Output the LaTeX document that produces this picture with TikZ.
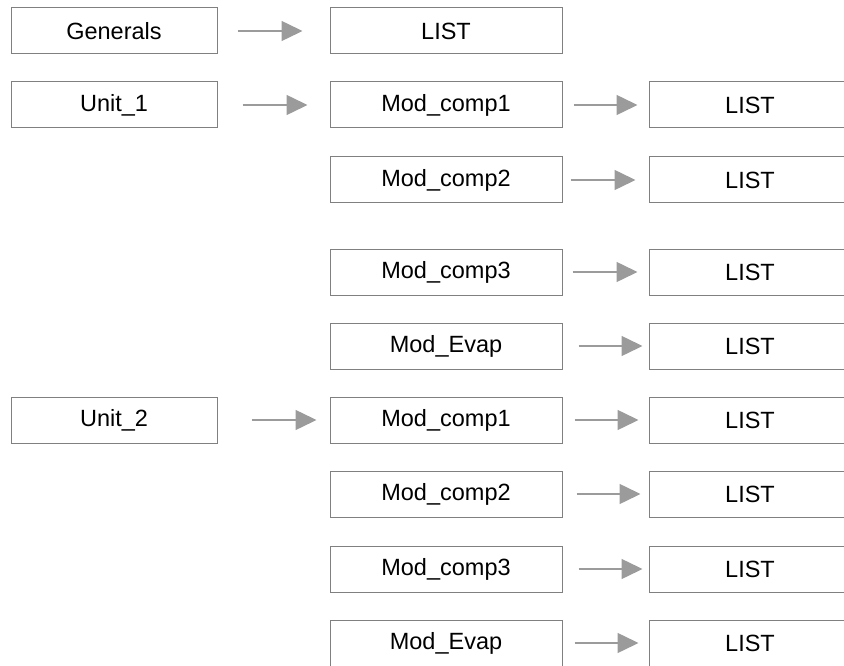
\documentclass[tikz,border=0pt]{standalone}
\usepackage{fontspec}
\setmainfont{Liberation Sans}
\usetikzlibrary{arrows.meta}
\definecolor{boxgray}{RGB}{128,128,128}
\definecolor{arrgray}{RGB}{155,155,155}
\tikzset{
  box/.style={draw=boxgray, line width=1pt, fill=white, inner sep=0pt,
    minimum height=46pt, font=\fontsize{23.5}{28}\selectfont},
  boxA/.style={box, minimum width=206pt},
  boxB/.style={box, minimum width=232pt},
  arr/.style={draw=arrgray, line width=1.5pt,
    -{Triangle[length=21pt, width=20pt, fill=arrgray]}},
}
\begin{document}
\begin{tikzpicture}[x=1pt,y=-1pt]
\path[use as bounding box] (0,0) rectangle (844,666);
\clip (0,0) rectangle (844,666);
% column 1
\node[boxA] (gen) at (114,31) {Generals};
\node[boxA] (u1) at (114,105) {Unit\_1};
\node[boxA] (u2) at (114,420) {Unit\_2};
% column 2
\node[boxB] (l0) at (446,31) {LIST};
\node[boxB] (m1) at (446,105) {Mod\_comp1};
\node[boxB] (m2) at (446,180) {Mod\_comp2};
\node[boxB] (m3) at (446,272) {Mod\_comp3};
\node[boxB] (m4) at (446,346) {Mod\_Evap};
\node[boxB] (n1) at (446,420) {Mod\_comp1};
\node[boxB] (n2) at (446,494) {Mod\_comp2};
\node[boxB] (n3) at (446,569) {Mod\_comp3};
\node[boxB] (n4) at (446,643) {Mod\_Evap};
% column 3
\node[boxB] (lm1) at (765,105) {\hspace*{-30pt}LIST};
\node[boxB] (lm2) at (765,180) {\hspace*{-30pt}LIST};
\node[boxB] (lm3) at (765,272) {\hspace*{-30pt}LIST};
\node[boxB] (lm4) at (765,346) {\hspace*{-30pt}LIST};
\node[boxB] (ln1) at (765,420) {\hspace*{-30pt}LIST};
\node[boxB] (ln2) at (765,494) {\hspace*{-30pt}LIST};
\node[boxB] (ln3) at (765,569) {\hspace*{-30pt}LIST};
\node[boxB] (ln4) at (765,643) {\hspace*{-30pt}LIST};
% arrows
\draw[arr, shorten <=20pt, shorten >=27pt] (gen) -- (l0);
\draw[arr, shorten <=25pt, shorten >=22pt] (u1) -- (m1);
\draw[arr, shorten <=34pt, shorten >=13pt] (u2) -- (n1);
\draw[arr, shorten <=11pt, shorten >=11pt] (m1) -- (lm1);
\draw[arr, shorten <=8pt, shorten >=13pt] (m2) -- (lm2);
\draw[arr, shorten <=10pt, shorten >=11pt] (m3) -- (lm3);
\draw[arr, shorten <=16pt, shorten >=6pt] (m4) -- (lm4);
\draw[arr, shorten <=12pt, shorten >=10pt] (n1) -- (ln1);
\draw[arr, shorten <=14pt, shorten >=8pt] (n2) -- (ln2);
\draw[arr, shorten <=16pt, shorten >=6pt] (n3) -- (ln3);
\draw[arr, shorten <=12pt, shorten >=10pt] (n4) -- (ln4);
\end{tikzpicture}
\end{document}
